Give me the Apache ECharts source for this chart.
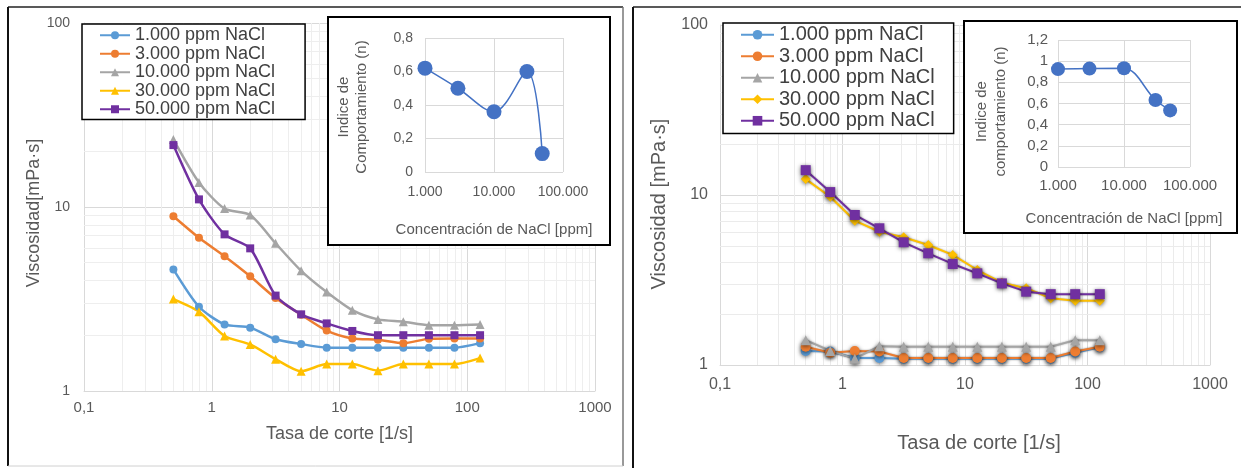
<!DOCTYPE html>
<html><head><meta charset="utf-8">
<script src="https://cdn.jsdelivr.net/npm/echarts@6/dist/echarts.min.js"></script>
<style>html,body{margin:0;padding:0;background:#fff}#c{width:1241px;height:468px}</style>
</head><body><div id="c"></div>
<script>
// ---------- DATA ----------
const SHEAR_RATE = [0.501, 0.794, 1.26, 2.0, 3.16, 5.01, 7.94, 12.6, 20.0, 31.6, 50.1, 79.4, 126];
const SERIES_NAMES = ['1.000 ppm NaCl', '3.000 ppm NaCl', '10.000 ppm NaCl', '30.000 ppm NaCl', '50.000 ppm NaCl'];

// Left panel viscosities [mPa·s]
const L_1000  = [4.58, 2.87, 2.30, 2.21, 1.91, 1.80, 1.72, 1.72, 1.72, 1.72, 1.72, 1.72, 1.82];
const L_3000  = [8.9, 6.8, 5.4, 4.2, 3.2, 2.6, 2.13, 1.93, 1.90, 1.82, 1.92, 1.93, 1.93];
const L_10000 = [23.3, 13.6, 9.8, 9.05, 6.35, 4.5, 3.45, 2.75, 2.45, 2.38, 2.28, 2.28, 2.30];
const L_30000 = [3.16, 2.70, 1.99, 1.79, 1.49, 1.28, 1.40, 1.40, 1.29, 1.40, 1.40, 1.40, 1.51];
const L_50000 = [21.7, 11.0, 7.1, 5.96, 3.30, 2.61, 2.33, 2.12, 2.01, 2.01, 2.01, 2.01, 2.01];

// Right panel viscosities [mPa·s]
const R_1000  = [1.21, 1.20, 1.10, 1.10, 1.09, 1.09, 1.09, 1.09, 1.09, 1.09, 1.09, 1.18, 1.27];
const R_3000  = [1.28, 1.18, 1.21, 1.20, 1.10, 1.10, 1.10, 1.10, 1.10, 1.10, 1.10, 1.20, 1.28];
const R_10000 = [1.40, 1.21, 1.09, 1.29, 1.28, 1.28, 1.28, 1.28, 1.28, 1.28, 1.28, 1.40, 1.40];
const R_30000 = [12.4, 9.77, 7.06, 6.08, 5.64, 5.08, 4.44, 3.62, 3.05, 2.83, 2.47, 2.39, 2.39];
const R_50000 = [14.0, 10.4, 7.63, 6.37, 5.27, 4.54, 3.93, 3.46, 3.02, 2.70, 2.61, 2.61, 2.61];

// Insets: behaviour index n vs NaCl concentration
const CONC = [1000, 3000, 10000, 30000, 50000];
const L_INDEX_N = [0.62, 0.50, 0.36, 0.60, 0.11];
const R_INDEX_N = [0.925, 0.93, 0.933, 0.633, 0.535];

// Tick labels
const MAIN_X_TICKS = ['0,1', '1', '10', '100', '1000'];
const MAIN_Y_TICKS = ['1', '10', '100'];
const INSET_X_TICKS = ['1.000', '10.000', '100.000'];
const MINOR_X = [0.2,0.3,0.4,0.5,0.6,0.7,0.8,0.9, 2,3,4,5,6,7,8,9, 20,30,40,50,60,70,80,90, 200,300,400,500,600,700,800,900];
const MINOR_Y = [2,3,4,5,6,7,8,9, 20,30,40,50,60,70,80,90];

// ---------- CHART ----------
const COLORS = ['#5B9BD5', '#ED7D31', '#A5A5A5', '#FFC000', '#7030A0'];
const L_SYMBOLS = ['circle', 'circle', 'triangle', 'triangle', 'rect'];
const R_SYMBOLS = ['circle', 'circle', 'triangle', 'diamond', 'rect'];
const L_DATA = [L_1000, L_3000, L_10000, L_30000, L_50000];
const R_DATA = [R_1000, R_3000, R_10000, R_30000, R_50000];
const FONT = '"Liberation Sans", Arial, sans-serif';
const TXT = '#595959';
const pairs = (xs, ys) => xs.map((x, i) => [x, ys[i]]);
const dec = v => Math.round(Math.log10(v));
const commaNum = v => (Math.abs(v) < 1e-9 ? '0' : String(+v.toFixed(1)).replace('.', ','));

function mainX(gi, fs, margin, name, gap, nameFs, pad) {
  return {
    type: 'log', logBase: 10, min: 0.1, max: 1000, gridIndex: gi,
    axisLine: { show: true, lineStyle: { color: '#d9d9d9' } }, axisTick: { show: false },
    splitLine: { show: true, lineStyle: { color: '#d9d9d9' } },
    axisLabel: { color: TXT, fontSize: fs, fontFamily: FONT, margin: margin, formatter: v => MAIN_X_TICKS[dec(v) + 1] },
    name: name, nameLocation: 'middle', nameGap: gap,
    nameTextStyle: { color: TXT, fontSize: nameFs, fontFamily: FONT, padding: pad }
  };
}
function mainY(gi, fs, margin, name, gap, nameFs, pad) {
  return {
    type: 'log', logBase: 10, min: 1, max: 100, gridIndex: gi,
    axisLine: { show: true, lineStyle: { color: '#d9d9d9' } }, axisTick: { show: false },
    splitLine: { show: true, lineStyle: { color: '#d9d9d9' } },
    axisLabel: { color: TXT, fontSize: fs, fontFamily: FONT, margin: margin, formatter: v => MAIN_Y_TICKS[dec(v)] },
    name: name, nameLocation: 'middle', nameGap: gap,
    nameTextStyle: { color: TXT, fontSize: nameFs, fontFamily: FONT, padding: pad }
  };
}
function insetX(gi, fs, margin, gap) {
  return {
    type: 'log', logBase: 10, min: 1000, max: 100000, gridIndex: gi, z: 5,
    axisLine: { show: false }, axisTick: { show: false },
    splitLine: { show: true, lineStyle: { color: '#d9d9d9' } },
    axisLabel: { color: TXT, fontSize: fs, fontFamily: FONT, margin: margin, formatter: v => INSET_X_TICKS[dec(v) - 3] },
    name: 'Concentración de NaCl [ppm]', nameLocation: 'middle', nameGap: gap,
    nameTextStyle: { color: TXT, fontSize: 15, fontFamily: FONT }
  };
}
function insetY(gi, max, fs, margin, name, gap, lh, pad) {
  return {
    type: 'value', min: 0, max: max, interval: 0.2, gridIndex: gi, z: 5,
    axisLine: { show: false }, axisTick: { show: false },
    splitLine: { show: true, lineStyle: { color: '#d9d9d9' } },
    axisLabel: { color: TXT, fontSize: fs, fontFamily: FONT, margin: margin, formatter: commaNum },
    name: name, nameLocation: 'middle', nameGap: gap,
    nameTextStyle: { color: TXT, fontSize: 15, fontFamily: FONT, lineHeight: lh, padding: pad }
  };
}
function minorGrid(ai, color) {
  return {
    type: 'line', xAxisIndex: ai, yAxisIndex: ai, data: [], silent: true, z: 1,
    markLine: {
      z: 1, silent: true, symbol: ['none', 'none'], label: { show: false }, animation: false,
      lineStyle: { color: color, type: 'solid', width: 1 },
      emphasis: { disabled: true },
      data: MINOR_X.map(v => ({ xAxis: v })).concat(MINOR_Y.map(v => ({ yAxis: v })))
    }
  };
}

const series = [minorGrid(0, '#eeeeee'), minorGrid(2, '#ebebeb')];
L_DATA.forEach((d, i) => series.push({
  name: SERIES_NAMES[i], type: 'line', xAxisIndex: 0, yAxisIndex: 0, z: 2,
  data: pairs(SHEAR_RATE, d), smooth: 0.25,
  symbol: L_SYMBOLS[i], symbolSize: L_SYMBOLS[i] === 'triangle' ? 9 : 8,
  lineStyle: { color: COLORS[i], width: 2.5 }, itemStyle: { color: COLORS[i] }
}));
R_DATA.forEach((d, i) => series.push({
  name: 'R|' + SERIES_NAMES[i], type: 'line', xAxisIndex: 2, yAxisIndex: 2, z: 2 + (i >= 3 ? 1 : 0),
  data: pairs(SHEAR_RATE, d),
  symbol: R_SYMBOLS[i], symbolSize: 10,
  lineStyle: { color: COLORS[i], width: 2, shadowBlur: 2, shadowColor: 'rgba(0,0,0,0.35)' },
  itemStyle: { color: COLORS[i], shadowBlur: 4, shadowColor: 'rgba(0,0,0,0.6)', shadowOffsetY: 1 }
}));
series.push({
  name: 'nL', type: 'line', xAxisIndex: 1, yAxisIndex: 1, z: 6,
  data: pairs(CONC, L_INDEX_N), smooth: 0.35, symbol: 'circle', symbolSize: 15,
  lineStyle: { color: '#4472C4', width: 1.5 }, itemStyle: { color: '#4472C4' }
});
series.push({
  name: 'nR', type: 'line', xAxisIndex: 3, yAxisIndex: 3, z: 6,
  data: pairs(CONC, R_INDEX_N), smooth: 0.35, symbol: 'circle', symbolSize: 14,
  lineStyle: { color: '#4472C4', width: 1.5 }, itemStyle: { color: '#4472C4' }
});

const line = (x1, y1, x2, y2, color, w) => ({
  type: 'line', silent: true, z: 10, shape: { x1, y1, x2, y2 }, style: { stroke: color, lineWidth: w }
});

const option = {
  animation: false,
  backgroundColor: '#fff',
  grid: [
    { left: 84, top: 23, width: 511, height: 368 },
    { left: 425, top: 38, width: 138, height: 134 },
    { left: 720, top: 25, width: 490, height: 340 },
    { left: 1058, top: 40, width: 132, height: 127 }
  ],
  xAxis: [
    mainX(0, 15, 9, 'Tasa de corte [1/s]', 34, 18, [0, 0, 0, 0]),
    insetX(1, 14, 13, 50),
    mainX(2, 16, 12, 'Tasa de corte [1/s]', 68, 20, [0, 0, 0, 28]),
    insetX(3, 15, 11, 44)
  ],
  yAxis: [
    mainY(0, 14, 14, 'Viscosidad[mPa·s]', 39, 18, [0, 12, 0, 0]),
    insetY(1, 0.8, 14, 12, 'Indice de\nComportamiento (n)', 54, 18, [0, 4, 0, 0]),
    mainY(2, 16, 12, 'Viscosidad [mPa·s]', 51, 20, [0, 18, 0, 0]),
    insetY(3, 1.2, 15, 10, 'Indice de\ncomportamiento (n)', 48, 19, [0, 16, 0, 0])
  ],
  legend: [
    {
      left: 82, top: 24, orient: 'vertical', selectedMode: false, z: 8,
      data: SERIES_NAMES, itemWidth: 30, itemHeight: 10, itemGap: 0,
      padding: [2, 30, 1, 17], borderColor: '#000', borderWidth: 1.5, backgroundColor: '#fff',
      textStyle: { fontSize: 18, color: '#404040', fontFamily: FONT, lineHeight: 18.5 }
    },
    {
      left: 723, top: 23, orient: 'vertical', selectedMode: false, z: 8,
      data: SERIES_NAMES.map(n => 'R|' + n), formatter: n => n.replace('R|', ''),
      itemWidth: 33, itemHeight: 12, itemGap: 0,
      padding: [1, 19, 2, 17], borderColor: '#000', borderWidth: 1.5, backgroundColor: '#fff',
      textStyle: { fontSize: 20, color: '#404040', fontFamily: FONT, lineHeight: 21.5 }
    }
  ],
  graphic: { elements: [
    { type: 'rect', silent: true, z: 3, shape: { x: 328, y: 17, width: 282, height: 228 },
      style: { fill: '#fff', stroke: '#000', lineWidth: 2 } },
    { type: 'rect', silent: true, z: 3, shape: { x: 964, y: 21, width: 273, height: 212 },
      style: { fill: '#fff', stroke: '#000', lineWidth: 2 } },
    line(8, 7, 623, 7, '#222', 1.5),
    line(633, 7, 1241, 7, '#222', 1.5),
    line(8, 7, 8, 466, '#111', 2),
    line(623, 7, 623, 466, '#777', 1.5),
    line(8, 466, 623, 466, '#d0d0d0', 1),
    line(633, 7, 633, 468, '#111', 2)
  ] },
  series: series
};
const chart = echarts.init(document.getElementById('c'));
chart.setOption(option);
</script>
</body></html>
